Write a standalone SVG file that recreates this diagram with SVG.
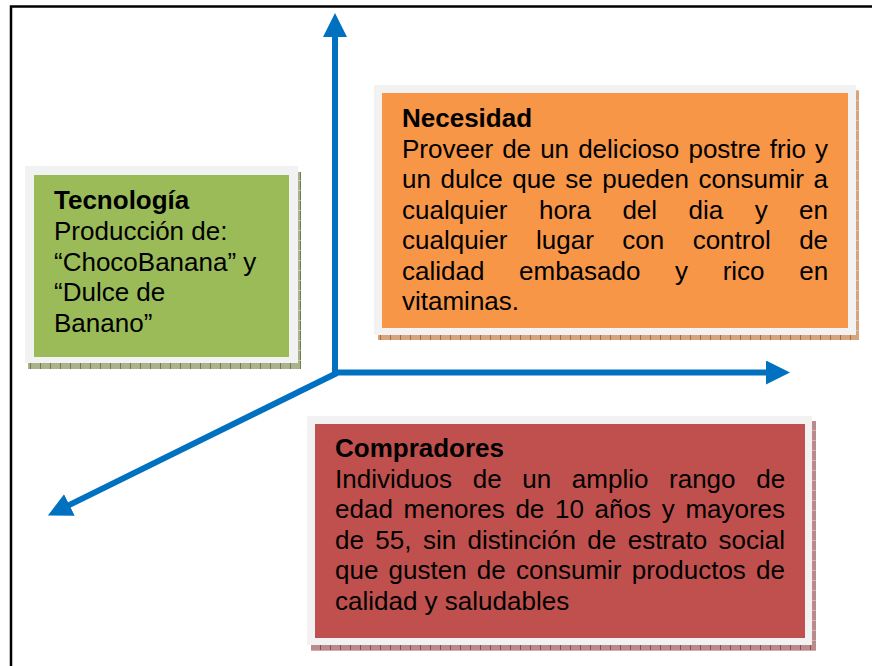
<svg xmlns="http://www.w3.org/2000/svg" width="872" height="666" viewBox="0 0 872 666">
<style>
  .t { font-family: "Liberation Sans", Arial, sans-serif; font-size: 26px; fill: #000; }
  .b { font-weight: bold; }
  .frame { fill: #f2f2f2; }
  .axis { stroke: #0070c0; stroke-width: 6; fill: none; marker-end: url(#head); }
</style>
<defs>
  <marker id="head" viewBox="0 0 24 24" markerWidth="24" markerHeight="24" refX="1" refY="12" orient="auto" markerUnits="userSpaceOnUse">
    <path d="M0,0 L24,12 L0,24 z" fill="#0070c0"/>
  </marker>
  <pattern id="pg" width="10" height="10" patternUnits="userSpaceOnUse">
    <rect width="10" height="10" fill="#aab28c"/>
    <rect width="1" height="10" fill="#6f7c4c"/>
    <rect y="0" width="10" height="1" fill="#c3c8aa"/>
  </pattern>
  <pattern id="po" width="10" height="10" patternUnits="userSpaceOnUse">
    <rect width="10" height="10" fill="#d8a47c"/>
    <rect width="1" height="10" fill="#a46a3e"/>
    <rect y="0" width="10" height="1" fill="#e6c0a2"/>
  </pattern>
  <pattern id="pr" width="10" height="10" patternUnits="userSpaceOnUse">
    <rect width="10" height="10" fill="#ba8a8c"/>
    <rect width="1" height="10" fill="#8a4a4e"/>
    <rect y="0" width="10" height="1" fill="#d2b0b2"/>
  </pattern>
</defs>

<rect x="11" y="6.5" width="900" height="700" fill="none" stroke="#000" stroke-width="2.5"/>

<g id="connectors">
  <path class="axis" d="M335,376 L335,36"/>
  <path class="axis" d="M333,372.5 L767,372.5"/>
  <path class="axis" d="M337,373 L68.5,505.4"/>
</g>

<g id="tecnologia">
  <rect x="28" y="172" width="273" height="197" fill="url(#pg)"/>
  <rect class="frame" x="25" y="166" width="273" height="197"/>
  <rect x="34" y="175" width="255" height="182" fill="#9bbb59"/>
  <text class="t b" x="54" y="209">Tecnología</text>
  <text class="t" x="54" y="240">Producción de:</text>
  <text class="t" x="54" y="271">“ChocoBanana” y</text>
  <text class="t" x="54" y="301">“Dulce de</text>
  <text class="t" x="54" y="332">Banano”</text>
</g>

<g id="necesidad">
  <rect x="378" y="90" width="481" height="250" fill="url(#po)"/>
  <rect class="frame" x="374" y="85" width="482" height="250"/>
  <rect x="382" y="93" width="466" height="235" fill="#f79646"/>
  <text class="t b" x="402" y="127">Necesidad</text>
  <text class="t" x="402" y="157.5" word-spacing="1.87">Proveer de un delicioso postre frio y</text>
  <text class="t" x="402" y="188" word-spacing="2.35">un dulce que se pueden consumir a</text>
  <text class="t" x="402" y="218.5" word-spacing="24.2">cualquier hora del dia y en</text>
  <text class="t" x="402" y="249" word-spacing="21.24">cualquier lugar con control de</text>
  <text class="t" x="402" y="279.5" word-spacing="27.4">calidad embasado y rico en</text>
  <text class="t" x="402" y="310">vitaminas.</text>
</g>

<g id="compradores">
  <rect x="311" y="421" width="505" height="230" fill="url(#pr)"/>
  <rect class="frame" x="307" y="416" width="505" height="229"/>
  <rect x="315" y="424" width="490" height="214" fill="#c0504d"/>
  <text class="t b" x="335" y="457">Compradores</text>
  <text class="t" x="335" y="487.5" word-spacing="13.41">Individuos de un amplio rango de</text>
  <text class="t" x="335" y="518" word-spacing="3.47">edad menores de 10 años y mayores</text>
  <text class="t" x="335" y="548.5" word-spacing="4.19">de 55, sin distinción de estrato social</text>
  <text class="t" x="335" y="579" word-spacing="2.99">que gusten de consumir productos de</text>
  <text class="t" x="335" y="609.5">calidad y saludables</text>
</g>
</svg>
